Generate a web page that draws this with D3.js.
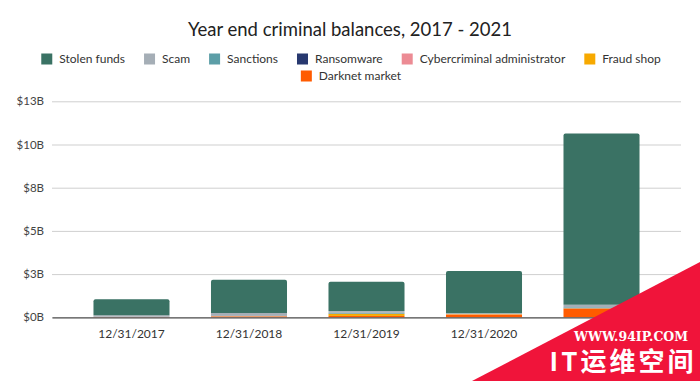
<!DOCTYPE html>
<html>
<head>
<meta charset="utf-8">
<script src="https://cdn.jsdelivr.net/npm/d3@7"></script>
<style>
  html, body { margin: 0; padding: 0; background: #fff; }
  svg { display: block; font-family: Lato, "Noto Sans", sans-serif; }
</style>
</head>
<body>
<svg id="chart" width="700" height="381"></svg>
<script>
// ---- data (billions USD) ----
const categories = ["12/31/2017", "12/31/2018", "12/31/2019", "12/31/2020", "12/31/2021"];
const seriesNames = ["Darknet market", "Fraud shop", "Cybercriminal administrator", "Ransomware", "Sanctions", "Scam", "Stolen funds"];
const darknetMarket = [0.01, 0.05, 0.08, 0.16, 0.50];
const fraudShop = [0.00, 0.01, 0.12, 0.02, 0.02];
const cybercriminalAdmin = [0.02, 0.01, 0.01, 0.01, 0.01];
const ransomware = [0.00, 0.00, 0.00, 0.00, 0.01];
const sanctions = [0.01, 0.01, 0.05, 0.01, 0.04];
const scam = [0.08, 0.17, 0.10, 0.03, 0.14];
const stolenFunds = [0.93, 1.93, 1.70, 2.45, 9.91];
const yTicks = [0, 2.5, 5, 7.5, 10, 12.5];
const yTickLabels = ["$0B", "$3B", "$5B", "$8B", "$10B", "$13B"];
const legendOrder = ["Stolen funds", "Scam", "Sanctions", "Ransomware", "Cybercriminal administrator", "Fraud shop", "Darknet market"];
const colors = {
  "Stolen funds": "#3a7264",
  "Scam": "#a5aeb6",
  "Sanctions": "#5c9ea7",
  "Ransomware": "#27386f",
  "Cybercriminal administrator": "#ec8b94",
  "Fraud shop": "#f7a900",
  "Darknet market": "#ff5b00"
};

const seriesValues = {
  "Darknet market": darknetMarket,
  "Fraud shop": fraudShop,
  "Cybercriminal administrator": cybercriminalAdmin,
  "Ransomware": ransomware,
  "Sanctions": sanctions,
  "Scam": scam,
  "Stolen funds": stolenFunds
};
const table = categories.map((c, i) => {
  const row = { cat: c };
  seriesNames.forEach(s => row[s] = seriesValues[s][i]);
  return row;
});

const svg = d3.select("#chart");
const margin = { left: 52, right: 19, top: 101, bottom: 64 };
const W = 700, H = 381;

const x = d3.scaleBand().domain(categories).range([margin.left, W - margin.right]).paddingInner(0.353).paddingOuter(0.353);
const y = d3.scaleLinear().domain([0, 12.5]).range([317.3, 101.3]);

// title
svg.append("text").attr("x", 350).attr("y", 36).attr("text-anchor", "middle")
  .attr("font-size", 18.5).attr("fill", "#222").text("Year end criminal balances, 2017 - 2021");

// gridlines + y axis
const yAxis = d3.axisLeft(y).tickValues(yTicks).tickFormat((d, i) => yTickLabels[i])
  .tickSize(-(W - margin.right - margin.left)).tickPadding(8);
const gy = svg.append("g").attr("transform", `translate(${margin.left},0)`).call(yAxis);
gy.select(".domain").remove();
gy.selectAll(".tick line").attr("stroke", "#cfcfcf").attr("stroke-width", 1);
gy.selectAll(".tick text").attr("font-size", 11.5).attr("fill", "#444").attr("font-family", "Lato, sans-serif");

// stacked bars
const stack = d3.stack().keys(seriesNames);
const stacked = stack(table);
const topKey = seriesNames[seriesNames.length - 1];
const r = 2;
stacked.forEach(layer => {
  const g = svg.append("g").attr("fill", colors[layer.key]);
  layer.forEach(d => {
    const h = y(d[0]) - y(d[1]);
    if (h <= 0) return;
    const bx = x(d.data.cat), bw = x.bandwidth(), by = y(d[1]);
    if (layer.key === topKey) {
      g.append("path").attr("d",
        `M${bx},${by + h} L${bx},${by + r} Q${bx},${by} ${bx + r},${by} L${bx + bw - r},${by} Q${bx + bw},${by} ${bx + bw},${by + r} L${bx + bw},${by + h} Z`);
    } else {
      g.append("rect").attr("x", bx).attr("y", by).attr("width", bw).attr("height", h);
    }
  });
});

// x axis
const xAxis = d3.axisBottom(x).tickSize(0).tickPadding(12);
const gx = svg.append("g").attr("transform", `translate(0,${y(0)})`).call(xAxis);
gx.select(".domain").attr("stroke", "#555").attr("stroke-width", 1.2);
gx.selectAll(".tick text").attr("font-size", 12).attr("fill", "#333").attr("font-family", "Lato, sans-serif");

// legend
const legendRows = [legendOrder.slice(0, 6), legendOrder.slice(6)];
const rowY = [59, 76];
const sw = 11, gapST = 7, gapItem = 19;
legendRows.forEach((row, ri) => {
  const lg = svg.append("g");
  let cx = 0;
  row.forEach(name => {
    const item = lg.append("g").attr("transform", `translate(${cx},0)`);
    item.append("rect").attr("x", 0).attr("y", -sw / 2).attr("width", sw).attr("height", sw).attr("fill", colors[name]);
    const t = item.append("text").attr("x", sw + gapST).attr("y", 0).attr("dy", "0.35em")
      .attr("font-size", 12).attr("fill", "#333").text(name);
    cx += sw + gapST + t.node().getComputedTextLength() + gapItem;
  });
  const total = cx - gapItem;
  lg.attr("transform", `translate(${351 - total / 2},${rowY[ri]})`);
});

// watermark
svg.append("path").attr("d", `M472,381 L700,262 L700,381 Z`).attr("fill", "#f0143a");
svg.append("text").attr("x", 631).attr("y", 341).attr("text-anchor", "middle")
  .attr("font-size", 12.5).attr("font-weight", "bold").attr("font-family", "'DejaVu Serif', serif")
  .attr("fill", "#fff").text("WWW.94IP.COM");
svg.append("text").attr("x", 623).attr("y", 371).attr("text-anchor", "middle")
  .attr("font-size", 26).attr("font-weight", "bold").attr("font-family", "'Noto Sans CJK SC', sans-serif")
  .attr("letter-spacing", 3)
  .attr("fill", "#fff").text("IT运维空间");
</script>
</body>
</html>
